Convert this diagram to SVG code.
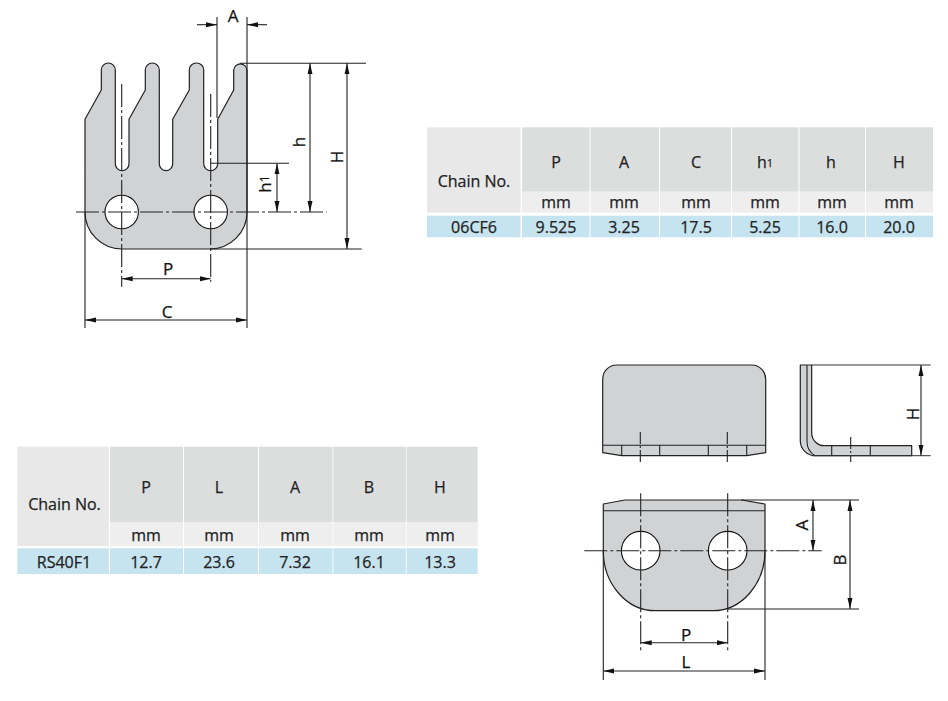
<svg xmlns="http://www.w3.org/2000/svg" width="948" height="701" viewBox="0 0 948 701">
<style>
.part{fill:#d1d2d3;stroke:#222;stroke-width:1.2;stroke-linejoin:round}
.hole{fill:#fff;stroke:#111;stroke-width:1.1}
.ln{fill:none;stroke:#222;stroke-width:1.1}
.thin{fill:none;stroke:#333;stroke-width:1}
.ctr{fill:none;stroke:#222;stroke-width:1.1;stroke-dasharray:23 3 3 3}
.ctr2{fill:none;stroke:#222;stroke-width:1.1;stroke-dasharray:12 2 2 2}
.dim{fill:none;stroke:#222;stroke-width:1.1;marker-end:url(#a);marker-start:url(#as)}
.dim1{fill:none;stroke:#222;stroke-width:1.1;marker-end:url(#a)}
.lab{font:500 17px "Open Sans","Noto Sans",sans-serif;fill:#111;stroke:#111;stroke-width:.25;text-anchor:middle;dominant-baseline:central}
.t{font:500 16px "Open Sans","Noto Sans",sans-serif;fill:#222;stroke:#222;stroke-width:.25;text-anchor:middle;dominant-baseline:central}
.h{fill:#dcdddd}.m{fill:#eeeeef}.c{fill:#e8e8e9}.b{fill:#c6e3f0}
</style>
<defs>
<marker id="a" markerUnits="userSpaceOnUse" markerWidth="12" markerHeight="7" refX="11" refY="3.5" orient="auto"><path d="M0 1L11 3.5L0 6z" fill="#111"/></marker>
<marker id="as" markerUnits="userSpaceOnUse" markerWidth="12" markerHeight="7" refX="1" refY="3.5" orient="auto"><path d="M12 1L1 3.5L12 6z" fill="#111"/></marker>
</defs>
<g id="part-06cf6">
<path class="part" d="M85 119.3L101.3 90V70A7 7 0 0 1 115.3 70V163.7A6.85 7 0 0 0 129 163.7V119.3L145.3 90V70A7 7 0 0 1 159.3 70V163.7A6.7 7 0 0 0 172.7 163.7V119.3L189.3 90V70A7.2 7 0 0 1 203.7 70V163.7A7 7 0 0 0 217.7 163.7V119.3L233.7 90V70A6.7 7 0 0 1 247 70V212A37 37 0 0 1 210 249H122A37 37 0 0 1 85 212Z"/>
<circle class="hole" cx="121.7" cy="212" r="16.7"/>
<circle class="hole" cx="210.7" cy="212" r="16.7"/>
</g>
<g id="part-rs40f1-front">
<path class="part" d="M602.7 379A14 14 0 0 1 616.7 365H751.7A14 14 0 0 1 765.7 379V452.7L746.7 455.7H621.7L602.7 452.7Z"/>
<path class="ln" d="M602.7 445.3H765.7M621.7 445.3V455.7M659.7 445.3V455.7M708.3 445.3V455.7M746.7 445.3V455.7"/>
</g>
<g id="part-rs40f1-side">
<path class="part" d="M800.3 365H811.7V433A12.7 12.7 0 0 0 824.4 445.7H911.7V455.7H815A15 15 0 0 1 800.3 441Z"/>
<path class="ln" d="M807 365V441Q807 451 815 455.7M831.7 445.7V455.7M870.3 445.7V455.7"/>
</g>
<g id="part-rs40f1-plan">
<path class="part" d="M603.3 504L625 500H741.7L765 504V551A52 60 0 0 1 713 610.7H655.3A52 60 0 0 1 603.3 551Z"/>
<path class="ln" d="M603.3 510.7H765"/>
<circle class="hole" cx="640.7" cy="550.7" r="19.3"/>
<circle class="hole" cx="727.7" cy="550.7" r="19.3"/>
</g>
<g id="connectors">
<path class="ln" d="M217 17V118M247 17V328M85 212V328M240 63.3H366M210 249H361.7M210.7 163.3H289"/>
<path class="ctr" d="M76 212H326.7M121.7 84V286.7M210.7 94V281.7"/>
<path class="dim1" d="M197 24.7H217"/>
<path class="dim1" d="M267 24.7H247"/>
<path class="dim" d="M347 63.3V249"/>
<path class="dim" d="M310 63.3V212"/>
<path class="dim" d="M277 163.3V212"/>
<path class="dim" d="M121.700 278.7H210.7"/>
<path class="dim" d="M85 320H247"/>
<path class="ctr2" d="M640.3 432V464M727.3 432V464M850.7 437V462"/>
<path class="thin" d="M812 365H930.7M812 455.7H930.7"/>
<path class="dim" d="M921 365V455.7"/>
<path class="ctr" d="M584.3 550.7H821.7M640.7 493.3V651.7M727.7 493.3V651.7"/>
<path class="ln" d="M603.3 551V680M765 551V680M741 500H859M727.7 609H859"/>
<path class="dim" d="M813 500V550.7"/>
<path class="dim" d="M850 500V609"/>
<path class="dim" d="M640.7 642.7H727.7"/>
<path class="dim" d="M603.3 671H765"/>
</g>
<g id="dimension-labels">
<text class="lab" x="233" y="15">A</text>
<text class="lab" x="168" y="268">P</text>
<text class="lab" x="167" y="311">C</text>
<text class="lab" transform="translate(298 142) rotate(-90)">h</text>
<text class="lab" transform="translate(336 157) rotate(-90)">H</text>
<text class="lab" transform="translate(264 184) rotate(-90)">h<tspan font-size="12">1</tspan></text>
<text class="lab" transform="translate(912 414) rotate(-90)">H</text>
<text class="lab" transform="translate(801 525) rotate(-90)">A</text>
<text class="lab" transform="translate(839 560) rotate(-90)">B</text>
<text class="lab" x="686" y="634">P</text>
<text class="lab" x="686" y="661">L</text>
</g>
<g id="table-06cf6">
<rect class="c" x="427" y="127.3" width="93.5" height="85.4"/>
<rect class="h" x="522" y="127.3" width="67.5" height="64.4"/><rect class="h" x="590.5" y="127.3" width="68.5" height="64.4"/><rect class="h" x="660" y="127.3" width="71" height="64.4"/><rect class="h" x="732" y="127.3" width="66.5" height="64.4"/><rect class="h" x="799.5" y="127.3" width="65.5" height="64.4"/><rect class="h" x="866" y="127.3" width="67" height="64.4"/>
<rect class="m" x="522" y="191.7" width="67.5" height="21"/><rect class="m" x="590.5" y="191.7" width="68.5" height="21"/><rect class="m" x="660" y="191.7" width="71" height="21"/><rect class="m" x="732" y="191.7" width="66.5" height="21"/><rect class="m" x="799.5" y="191.7" width="65.5" height="21"/><rect class="m" x="866" y="191.7" width="67" height="21"/>
<rect class="b" x="427" y="215.7" width="93.5" height="21.6"/><rect class="b" x="522" y="215.7" width="67.5" height="21.6"/><rect class="b" x="590.5" y="215.7" width="68.5" height="21.6"/><rect class="b" x="660" y="215.7" width="71" height="21.6"/><rect class="b" x="732" y="215.7" width="66.5" height="21.6"/><rect class="b" x="799.5" y="215.7" width="65.5" height="21.6"/><rect class="b" x="866" y="215.7" width="67" height="21.6"/>
<text class="t" x="474" y="181">Chain No.</text>
<text class="t" x="556" y="162">P</text><text class="t" x="624" y="162">A</text><text class="t" x="696" y="162">C</text><text class="t" x="765" y="162">h<tspan font-size="11">1</tspan></text><text class="t" x="831" y="162">h</text><text class="t" x="899" y="162">H</text>
<text class="t" x="556" y="202">mm</text><text class="t" x="624" y="202">mm</text><text class="t" x="696" y="202">mm</text><text class="t" x="765" y="202">mm</text><text class="t" x="832" y="202">mm</text><text class="t" x="899" y="202">mm</text>
<text class="t" x="474" y="227">06CF6</text><text class="t" x="556" y="227">9.525</text><text class="t" x="624" y="227">3.25</text><text class="t" x="696" y="227">17.5</text><text class="t" x="765" y="227">5.25</text><text class="t" x="832" y="227">16.0</text><text class="t" x="899" y="227">20.0</text>
</g>
<g id="table-rs40f1">
<rect class="c" x="17.3" y="446.7" width="91.5" height="99.3"/>
<rect class="h" x="110" y="446.7" width="73" height="75.3"/><rect class="h" x="184" y="446.7" width="74" height="75.3"/><rect class="h" x="259" y="446.7" width="73.5" height="75.3"/><rect class="h" x="333.3" y="446.7" width="72.5" height="75.3"/><rect class="h" x="406.6" y="446.7" width="71.1" height="75.3"/>
<rect class="m" x="110" y="522" width="73" height="24"/><rect class="m" x="184" y="522" width="74" height="24"/><rect class="m" x="259" y="522" width="73.5" height="24"/><rect class="m" x="333.3" y="522" width="72.5" height="24"/><rect class="m" x="406.6" y="522" width="71.1" height="24"/>
<rect class="b" x="17.3" y="548.3" width="91.5" height="25.7"/><rect class="b" x="110" y="548.3" width="73" height="25.7"/><rect class="b" x="184" y="548.3" width="74" height="25.7"/><rect class="b" x="259" y="548.3" width="73.5" height="25.7"/><rect class="b" x="333.3" y="548.3" width="72.5" height="25.7"/><rect class="b" x="406.6" y="548.3" width="71.1" height="25.7"/>
<text class="t" x="64.500" y="504">Chain No.</text>
<text class="t" x="146" y="487">P</text><text class="t" x="219" y="487">L</text><text class="t" x="295" y="487">A</text><text class="t" x="369" y="487">B</text><text class="t" x="440" y="487">H</text>
<text class="t" x="146" y="535">mm</text><text class="t" x="219" y="535">mm</text><text class="t" x="295" y="535">mm</text><text class="t" x="369" y="535">mm</text><text class="t" x="440" y="535">mm</text>
<text class="t" x="64" y="562">RS40F1</text><text class="t" x="146" y="562">12.7</text><text class="t" x="219" y="562">23.6</text><text class="t" x="295" y="562">7.32</text><text class="t" x="369" y="562">16.1</text><text class="t" x="440" y="562">13.3</text>
</g>
</svg>
